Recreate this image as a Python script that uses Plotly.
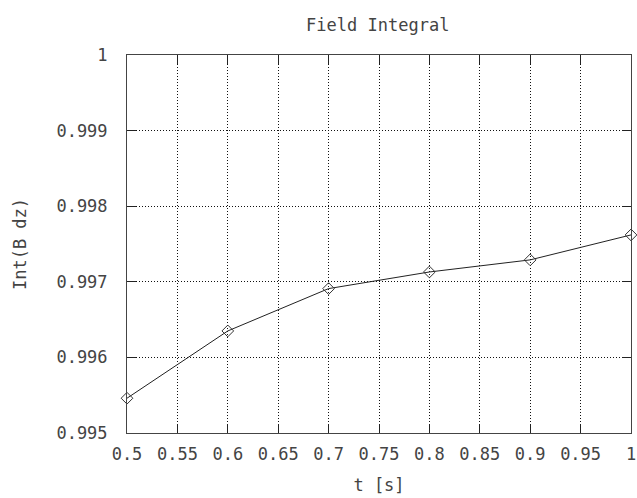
import plotly.graph_objects as go

t_values = [0.5, 0.6, 0.7, 0.8, 0.9, 1.0]
field_integral = [0.99546, 0.99635, 0.99691, 0.99713, 0.99729, 0.99762]

x_tickvals = [0.5, 0.55, 0.6, 0.65, 0.7, 0.75, 0.8, 0.85, 0.9, 0.95, 1.0]
x_ticktext = ["0.5", "0.55", "0.6", "0.65", "0.7", "0.75", "0.8", "0.85", "0.9", "0.95", "1"]
y_tickvals = [0.995, 0.996, 0.997, 0.998, 0.999, 1.0]
y_ticktext = ["0.995", "0.996", "0.997", "0.998", "0.999", "1"]

FONT = "DejaVu Sans Mono, Liberation Mono, monospace"
TXT = "#444444"

fig = go.Figure()
fig.add_trace(go.Scatter(
    x=t_values, y=field_integral, mode="lines+markers",
    line=dict(color="#222222", width=1),
    marker=dict(symbol="diamond-open", size=9, color="#333333", line=dict(width=1)),
    cliponaxis=False, showlegend=False,
))

axis_common = dict(
    showline=True, linecolor="#444444", linewidth=1, mirror="allticks",
    ticks="inside", ticklen=9, tickcolor="#222222", tickwidth=1,
    showgrid=True, gridcolor="#111111", griddash="1px,2px", gridwidth=1,
    zeroline=False, ticklabeloverflow="allow",
    tickfont=dict(family=FONT, size=17, color=TXT),
)

fig.update_xaxes(
    **axis_common, range=[0.5, 1.0],
    tickmode="array", tickvals=x_tickvals, ticktext=x_ticktext, tickangle=0,
    ticklabelstandoff=6,
    title=dict(text="t [s]", font=dict(family=FONT, size=17, color=TXT), standoff=15),
)
fig.update_yaxes(
    **axis_common, range=[0.995, 1.0],
    tickmode="array", tickvals=y_tickvals, ticktext=y_ticktext,
    ticklabelstandoff=15,
    title=dict(text="Int(B dz)", font=dict(family=FONT, size=17, color=TXT), standoff=25),
)

fig.update_layout(
    width=637, height=498,
    margin=dict(l=127, r=6, t=55, b=65, autoexpand=False),
    paper_bgcolor="white", plot_bgcolor="white",
    title=dict(text="Field Integral", font=dict(family=FONT, size=17, color=TXT),
               x=0.593, xanchor="center", y=0.95, yanchor="middle"),
)

fig.write_html(
    "out.html",
    config={"displayModeBar": False},
    post_script="document.body.style.margin='0';document.body.style.overflow='hidden';",
)
